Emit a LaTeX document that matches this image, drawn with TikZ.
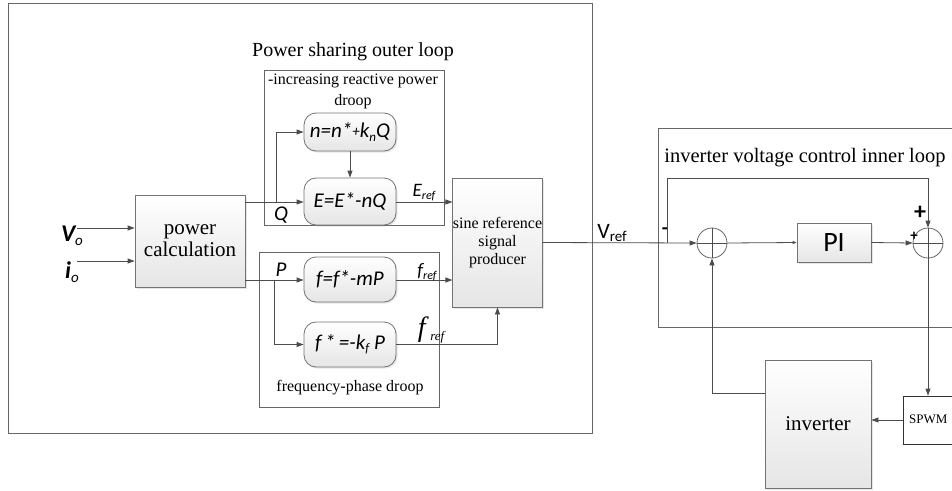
\documentclass[tikz,border=0pt]{standalone}
\usepackage{fontspec}
\setmainfont{Liberation Serif}
\newfontfamily\carlito{Carlito}
\usetikzlibrary{arrows.meta,shadows}

\newcommand{\lsub}[2][13]{\raisebox{-0.35ex}{\fontsize{#1}{#1}\selectfont #2}}

\begin{document}
\begin{tikzpicture}[x=1pt,y=-1pt,
	line/.style={draw=black!70,line width=0.8pt},
	arr/.style={line,-{Triangle[length=7pt,width=5pt]}},
	frame/.style={draw=black!60,line width=0.8pt},
	block/.style={draw=black!55,line width=0.8pt,top color=white,bottom color=black!10,
		drop shadow={opacity=0.2,shadow xshift=1.5pt,shadow yshift=-1.5pt},inner sep=0pt,align=center},
	law/.style={block,rounded corners=12pt,minimum width=92pt,minimum height=45pt,
		font=\fontsize{21}{21}\selectfont\carlito\itshape},
	sumjunc/.style={circle,draw=black!60,line width=0.8pt,fill=white,minimum size=30pt,inner sep=0pt},
	lbl/.style={font=\fontsize{21}{21}\selectfont\carlito\itshape,inner sep=0pt}]
	\useasboundingbox (0,0) rectangle (952,490);

	% frames
	\draw[frame] (8,3) rectangle (592,433);
	\node[font=\fontsize{20}{20}\selectfont] (title) at (353,52) {Power sharing outer loop};
	\draw[frame] (264,70) rectangle (444,225);
	\node[align=center,font=\fontsize{16}{21}\selectfont,inner sep=0pt] (qtitle) at (353,91) {-increasing reactive power\\droop};
	\draw[frame] (259,252) rectangle (439,407);
	\node[font=\fontsize{16}{16}\selectfont] (ptitle) at (350,388) {frequency-phase droop};
	\draw[frame] (658,128) rectangle (960,327);
	\node[font=\fontsize{20.5}{20.5}\selectfont] (ititle) at (805,158) {inverter voltage control inner loop};

	% blocks
	\node[block,minimum width=110pt,minimum height=92pt,font=\fontsize{21}{22}\selectfont] (pc) at (190,241) {power\\calculation};
	\node[block,minimum width=89pt,minimum height=129pt,font=\fontsize{16}{18}\selectfont] (sine) at (497.5,242.5) {sine reference\\signal\\producer};
	\node[block,minimum width=106pt,minimum height=128pt,font=\fontsize{21}{21}\selectfont] (inv) at (818,424) {inverter};
	\node[block,minimum width=74pt,minimum height=39pt,font=\fontsize{28}{28}\selectfont\carlito] (pi) at (834,242.5) {PI};
	\node[draw=black!80,line width=0.8pt,fill=white,minimum width=70pt,minimum height=48pt,
		inner sep=0pt] (spwm) at (938,420) {};
	\node[font=\fontsize{13}{13}\selectfont,inner sep=0pt,anchor=west] (spwmtxt) at (909,419) {SPWM};

	\node[law,minimum height=38pt] (nlaw) at (350,132) {n=n*\raisebox{.15ex}{\fontsize{15}{15}\selectfont+}k\lsub{n}Q};
	\node[law,minimum height=47pt] (elaw) at (350,201.5) {E=E*-nQ};
	\node[law] (flaw) at (350,279.5) {f=f*-mP};
	\node[law] (fslaw) at (350,344.5) {f\,*\,=-k\lsub{f}\ P};

	\node[sumjunc] (sa) at (712,243) {};
	\node[sumjunc] (sb) at (928,243) {};
	\draw[line,line width=0.6pt] (sa.north) -- (sa.south) (sa.west) -- (sa.east);
	\draw[line,line width=0.6pt] (sb.north) -- (sb.south) (sb.west) -- (sb.east);

	% inputs
	\node[lbl] (vo) at (72,236) {\fontsize{24}{24}\selectfont\bfseries V\lsub[15]{\mdseries o}};
	\node[lbl] (io) at (72,272) {\fontsize{24}{24}\selectfont\bfseries i\lsub[15]{\mdseries o}};
	\coordinate (vin) at (77,228);
	\coordinate (iin) at (77,261);
	\draw[arr] (vin) -- (pc.west |- vin);
	\draw[arr] (iin) -- (pc.west |- iin);

	% reactive power droop
	\coordinate (qb) at (276,202);
	\draw[arr] (pc.east |- qb) -- (elaw.west |- qb);
	\draw[arr] (qb) |- (nlaw.west);
	\draw[arr] (nlaw.south) -- (elaw.north);
	\node[lbl] (q) at (281,215) {Q};
	\draw[arr] (elaw.east |- qb) -- (sine.west |- qb);
	\node[lbl,font=\fontsize{19}{19}\selectfont\carlito\itshape] (eref) at (424,193) {E\lsub[12]{ref}};

	% frequency-phase droop
	\coordinate (pb) at (274,280);
	\draw[arr] (pc.east |- pb) -- (flaw.west |- pb);
	\draw[arr] (pb) |- (fslaw.west);
	\node[lbl] (p) at (281,270) {P};
	\draw[arr] (flaw.east |- pb) -- (sine.west |- pb);
	\node[lbl,font=\fontsize{19}{19}\selectfont\carlito\itshape] (fref) at (427,272) {f\lsub[12]{ref}};
	\draw[arr] (fslaw.east) -| (sine.south);
	\node[inner sep=0pt] (fsref) at (431,330) {\fontsize{28}{28}\selectfont\itshape f\,\lsub[13]{ref}};

	% inner loop
	\draw[arr] (sine.east) -- (sa.west);
	\node[lbl,font=\fontsize{22}{22}\selectfont\carlito] (vref) at (612,233) {V\lsub[15]{ref}};
	\node[lbl,font=\fontsize{20}{20}\selectfont\carlito\bfseries] (minus) at (665,231) {-};
	\coordinate (fb) at (667,243);
	\coordinate (fbt) at (928,178);
	\draw[arr] (fb) |- (fbt) -- (sb.north);
	\draw[arr,-{Triangle[length=4pt,width=3pt]}] (sa.east) -- (pi.west);
	\draw[arr] (pi.east) -- (sb.west);
	\node[lbl,font=\fontsize{24}{24}\selectfont\carlito\bfseries] (plusa) at (920,213) {+};
	\node[lbl,font=\fontsize{15}{15}\selectfont\carlito\bfseries] (plusb) at (914,236) {+};
	\draw[arr] (sb.south) -- (sb.south |- spwm.north);
	\draw[arr] (spwm.west) -- (inv.east |- spwm.west);
	\coordinate (ib) at (712,393);
	\draw[arr] (inv.west |- ib) -- (ib) -- (sa.south);
\end{tikzpicture}
\end{document}
